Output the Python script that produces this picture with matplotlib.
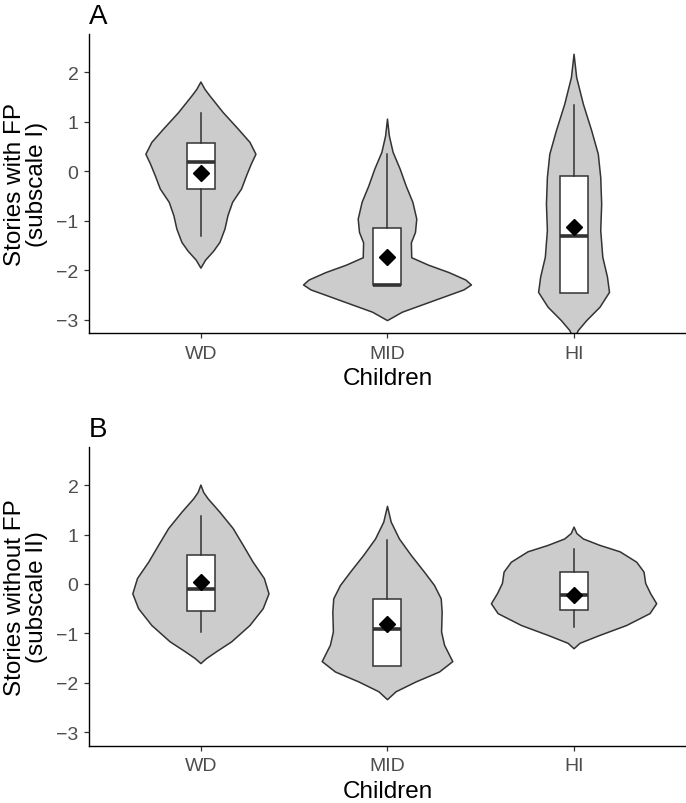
import numpy as np
import matplotlib
matplotlib.use("Agg")
import matplotlib.pyplot as plt

plt.rcParams['font.family'] = ['Liberation Sans', 'DejaVu Sans']

groups = ["WD", "MID", "HI"]

# violin outlines: y levels and half widths (x units)
a_wd_y = [1.80, 1.65, 1.52, 1.18, 0.85, 0.58, 0.34, 0.14, -0.09, -0.36, -0.63, -0.90, -1.17, -1.44, -1.62, -1.80, -1.96]
a_wd_w = [0, 0.022, 0.048, 0.12, 0.20, 0.263, 0.295, 0.27, 0.245, 0.218, 0.17, 0.145, 0.129, 0.102, 0.068, 0.025, 0]
a_mid_y = [1.05, 0.71, 0.38, 0.04, -0.30, -0.63, -0.97, -1.24, -1.45, -1.75, -1.90, -2.05, -2.20, -2.30, -2.40, -2.55, -2.70, -2.85, -3.02]
a_mid_w = [0, 0.01, 0.03, 0.068, 0.10, 0.136, 0.157, 0.15, 0.128, 0.13, 0.22, 0.33, 0.42, 0.45, 0.41, 0.30, 0.19, 0.08, 0]
a_hi_y = [2.36, 1.89, 1.35, 0.81, 0.34, -0.13, -0.67, -1.20, -1.74, -2.14, -2.45, -2.75, -3.02, -3.22, -3.40]
a_hi_w = [0, 0.014, 0.05, 0.095, 0.13, 0.143, 0.148, 0.143, 0.154, 0.179, 0.19, 0.139, 0.068, 0.023, 0]

b_wd_y = [2.00, 1.85, 1.72, 1.45, 1.12, 0.78, 0.44, 0.11, -0.20, -0.50, -0.84, -1.17, -1.37, -1.51, -1.61]
b_wd_w = [0, 0.015, 0.039, 0.102, 0.173, 0.227, 0.28, 0.34, 0.365, 0.334, 0.263, 0.165, 0.084, 0.03, 0]
b_mid_y = [1.57, 1.25, 0.91, 0.58, 0.24, -0.03, -0.30, -0.57, -0.97, -1.24, -1.57, -1.78, -1.98, -2.18, -2.34]
b_mid_w = [0, 0.02, 0.064, 0.127, 0.198, 0.252, 0.288, 0.293, 0.29, 0.306, 0.35, 0.279, 0.154, 0.046, 0]
b_hi_y = [1.15, 1.02, 0.91, 0.78, 0.65, 0.44, 0.24, 0.01, -0.20, -0.40, -0.60, -0.84, -1.04, -1.20, -1.31]
b_hi_w = [0, 0.015, 0.05, 0.139, 0.247, 0.336, 0.375, 0.384, 0.411, 0.443, 0.407, 0.282, 0.139, 0.032, 0]

# box stats: q1, median, q3, whisker low, whisker high, mean
a_q1 = [-0.37, -2.31, -2.46]
a_med = [0.18, -2.31, -1.32]
a_q3 = [0.565, -1.14, -0.09]
a_wlo = [-1.32, -2.31, -2.46]
a_whi = [1.18, 0.34, 1.33]
a_mean = [-0.03, -1.73, -1.12]

b_q1 = [-0.55, -1.66, -0.52]
b_med = [-0.11, -0.92, -0.23]
b_q3 = [0.58, -0.30, 0.24]
b_wlo = [-0.98, -1.66, -0.88]
b_whi = [1.37, 0.88, 0.70]
b_mean = [0.03, -0.80, -0.22]

fig = plt.figure(figsize=(6.86, 8.04), dpi=100)
axA = fig.add_axes([0.1297, 0.5846, 0.8703, 0.3719])
axB = fig.add_axes([0.1297, 0.0713, 0.8703, 0.3715])

def panel(ax, outlines, q1, med, q3, wlo, whi, mean, title, ylab):
    for i, (ys, ws) in enumerate(outlines):
        ys = np.array(ys)
        ws = np.array(ws)
        xs = np.concatenate([i + 1 + ws, (i + 1 - ws)[::-1]])
        yy = np.concatenate([ys, ys[::-1]])
        ax.fill(xs, yy, facecolor='#CCCCCC', edgecolor='#333333', linewidth=1.1,
                joinstyle='round', zorder=1)
    stats = []
    for i in range(len(groups)):
        stats.append(dict(q1=q1[i], med=med[i], q3=q3[i], whislo=wlo[i], whishi=whi[i],
                          mean=mean[i], fliers=[]))
    ax.bxp(stats, positions=[1, 2, 3], widths=0.15, patch_artist=True,
           showcaps=False, showfliers=False, showmeans=True,
           boxprops=dict(facecolor='white', edgecolor='#333333', linewidth=1.1),
           whiskerprops=dict(color='#333333', linewidth=1.1),
           medianprops=dict(color='#333333', linewidth=2.6),
           meanprops=dict(marker='D', markerfacecolor='black', markeredgecolor='black', markersize=8.5),
           zorder=2)
    ax.set_xlim(0.4, 3.6)
    ax.set_ylim(-3.27, 2.77)
    ax.set_xticks([1, 2, 3])
    ax.set_xticklabels(groups)
    ax.set_yticks([-3, -2, -1, 0, 1, 2])
    ax.spines['top'].set_visible(False)
    ax.spines['right'].set_visible(False)
    for s in ['left', 'bottom']:
        ax.spines[s].set_linewidth(1.0)
        ax.spines[s].set_color('black')
    ax.tick_params(length=3.5, width=0.9, color='#333333', labelcolor='#4D4D4D', labelsize=14)
    ax.tick_params(axis='x', pad=5)
    ax.tick_params(axis='y', pad=4)
    ax.set_xlabel("Children", fontsize=17.5, labelpad=4)
    ax.set_ylabel(ylab, fontsize=17.5, labelpad=6, linespacing=1.0)
    ax.set_title(title, loc='left', fontsize=20, pad=8, x=0.0)

panel(axA, [(a_wd_y, a_wd_w), (a_mid_y, a_mid_w), (a_hi_y, a_hi_w)],
      a_q1, a_med, a_q3, a_wlo, a_whi, a_mean, "A", "Stories with FP\n(subscale I)")
panel(axB, [(b_wd_y, b_wd_w), (b_mid_y, b_mid_w), (b_hi_y, b_hi_w)],
      b_q1, b_med, b_q3, b_wlo, b_whi, b_mean, "B", "Stories without FP\n(subscale II)")

fig.savefig("out.png", dpi=100)
